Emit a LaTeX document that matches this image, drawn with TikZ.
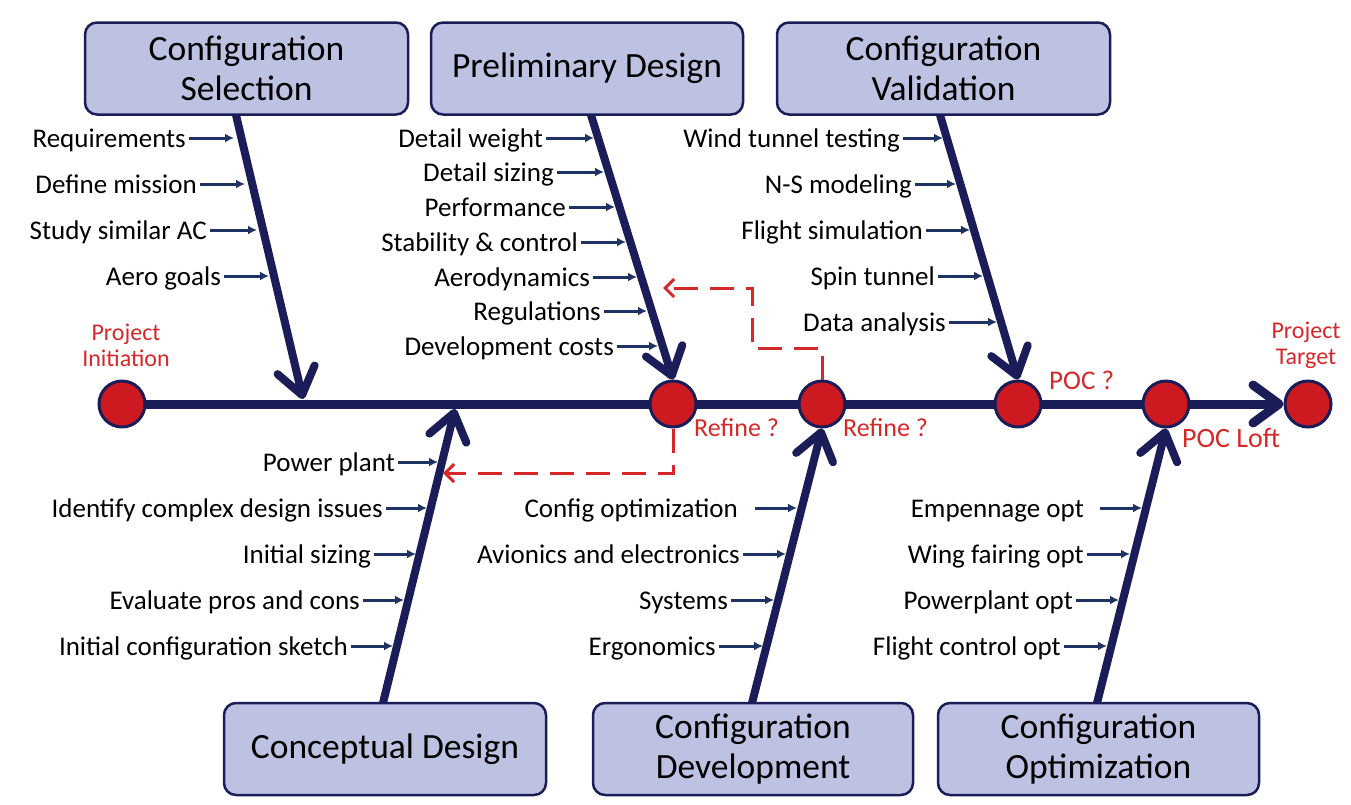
\documentclass[tikz,border=0pt]{standalone}
\usepackage{fontspec}
\setmainfont{Carlito}
\usetikzlibrary{arrows.meta,calc}
\definecolor{navy}{RGB}{27,29,88}
\definecolor{boxfill}{RGB}{190,194,226}
\definecolor{arrowblue}{RGB}{31,50,100}
\definecolor{redfill}{RGB}{204,26,32}
\definecolor{redtext}{RGB}{214,40,40}
\newcommand{\fishlab}[5]{\node[lab,anchor=east] (#1) at (#2,#3) {#4};
  \draw[sarr] ([xshift=3pt]#1.east) -- ++(#5,0);}
\begin{document}
\begin{tikzpicture}[x=1pt,y=-1pt,
  box/.style={draw=navy, line width=2.5pt, fill=boxfill, rounded corners=12pt,
    minimum height=92pt, align=center, font=\fontsize{35.5}{40}\selectfont, inner sep=0pt},
  lab/.style={font=\fontsize{27}{30}\selectfont, inner sep=0pt, text height=19pt, text depth=0pt},
  sarr/.style={draw=arrowblue, line width=3pt, -{Latex[length=9pt,width=9pt]}},
  bone/.style={draw=navy, line width=8pt, -{Straight Barb[length=26pt,width=38pt,round]}},
  spine/.style={draw=navy, line width=9pt, -{Straight Barb[length=26pt,width=38pt,round]}},
  circ/.style={circle, draw=navy, line width=3pt, fill=redfill, minimum size=46pt, inner sep=0pt},
  redlab/.style={text=redtext, inner sep=0pt, align=center},
  dsh/.style={draw=redtext, line width=3pt, dash pattern=on 24pt off 12pt,
    -{Straight Barb[length=9pt,width=18pt]}}]
\path[use as bounding box, fill=white] (0,0) rectangle (1351,804);

% boxes
\node[box, minimum width=323pt] (cs) at (246.5,68.5) {Configuration\\Selection};
\node[box, minimum width=312pt] (pd) at (587,68.5) {Preliminary Design};
\node[box, minimum width=333pt] (cv) at (943.5,68.5) {Configuration\\Validation};
\node[box, minimum width=322pt] (cd) at (385,749) {Conceptual Design};
\node[box, minimum width=320pt] (cdv) at (753,749) {Configuration\\Development};
\node[box, minimum width=321pt] (co) at (1098.5,749) {Configuration\\Optimization};

% spine and milestones
\coordinate (p1) at (122,404);
\coordinate (p2) at (673,404);
\coordinate (p3) at (822,404);
\coordinate (p4) at (1018,404);
\coordinate (p5) at (1166,404);
\node[circ] (c6) at (1308,404) {};
\draw[spine] (p1) -- (c6.west);
\node[circ] (c1) at (p1) {};
\node[circ] (c2) at (p2) {};
\node[circ] (c3) at (p3) {};
\node[circ] (c4) at (p4) {};
\node[circ] (c5) at (p5) {};

% bones
\coordinate (t1s) at (236,115);
\coordinate (t1e) at (303,399);
\coordinate (t2s) at (591,115);
\coordinate (t3s) at (940,115);
\coordinate (b1s) at (383,703);
\coordinate (b1e) at (455,409);
\coordinate (b2s) at (752,703);
\coordinate (b3s) at (1097,703);
\draw[bone] (t1s) -- (t1e);
\draw[bone] (t2s) -- (c2.north);
\draw[bone] (t3s) -- (c4.north);
\draw[bone] (b1s) -- (b1e);
\draw[bone] (b2s) -- (c3.south);
\draw[bone] (b3s) -- (c5.south);

% labels top 1
\fishlab{l11}{186}{138}{Requirements}{45}
\fishlab{l12}{197}{184}{Define mission}{45}
\fishlab{l13}{207}{230}{Study similar AC}{47}
\fishlab{l14}{221}{276}{Aero goals}{45}
% top 2
\fishlab{l21}{543}{138}{Detail weight}{48}
\fishlab{l22}{554}{172}{Detail sizing}{47}
\fishlab{l23}{566}{207}{Performance}{46}
\fishlab{l24}{578}{242}{Stability \& control}{45}
\fishlab{l25}{590}{277}{Aerodynamics}{44}
\fishlab{l26}{601}{311}{Regulations}{43}
\fishlab{l27}{614}{346}{Development costs}{41}
% top 3
\fishlab{l31}{900}{138}{Wind tunnel testing}{40}
\fishlab{l32}{912}{184}{N-S modeling}{41}
\fishlab{l33}{923}{230}{Flight simulation}{44}
\fishlab{l34}{935}{276}{Spin tunnel}{45}
\fishlab{l35}{946}{322}{Data analysis}{48}
% bottom 1
\fishlab{l41}{395}{462}{Power plant}{40}
\fishlab{l42}{383}{508}{Identify complex design issues}{41}
\fishlab{l43}{371}{554}{Initial sizing}{42}
\fishlab{l44}{360}{600}{Evaluate pros and cons}{41}
\fishlab{l45}{348}{646}{Initial configuration sketch}{42}
% bottom 2
\node[lab,anchor=east] (l51) at (738,508) {Config optimization};
\draw[sarr] ([xshift=17pt]l51.east) -- ++(42,0);
\fishlab{l52}{740}{554}{Avionics and electronics}{43}
\fishlab{l53}{728}{600}{Systems}{43}
\fishlab{l54}{716}{646}{Ergonomics}{44}
% bottom 3
\node[lab,anchor=east] (l61) at (1084,508) {Empennage opt};
\draw[sarr] ([xshift=16pt]l61.east) -- ++(42,0);
\fishlab{l62}{1084}{554}{Wing fairing opt}{43}
\fishlab{l63}{1073}{600}{Powerplant opt}{43}
\fishlab{l64}{1061}{646}{Flight control opt}{43}

% feedback loops
\coordinate (w1) at (752,348);
\coordinate (a1) at (663,288);
\coordinate (a2) at (443,473);
\draw[dsh] (c3.north) |- (w1) |- (a1);
\draw[dsh] (c2.south) |- (a2);

% red labels
\node[redlab, font=\fontsize{24}{26}\selectfont] (pi) at (126,345) {Project\\Initiation};
\node[redlab, font=\fontsize{24}{26}\selectfont] (pt) at (1306,345) {Project\\Target};
\node[redlab, font=\fontsize{26}{28}\selectfont, anchor=west] (r1) at (694,428) {Refine ?};
\node[redlab, font=\fontsize{26}{28}\selectfont, anchor=west] (r2) at (843,428) {Refine ?};
\node[redlab, font=\fontsize{27}{28}\selectfont, anchor=west] (poc) at (1049,380) {POC ?};
\node[redlab, font=\fontsize{28}{28}\selectfont, anchor=west] (pocl) at (1182,438) {POC Loft};
\end{tikzpicture}
\end{document}
